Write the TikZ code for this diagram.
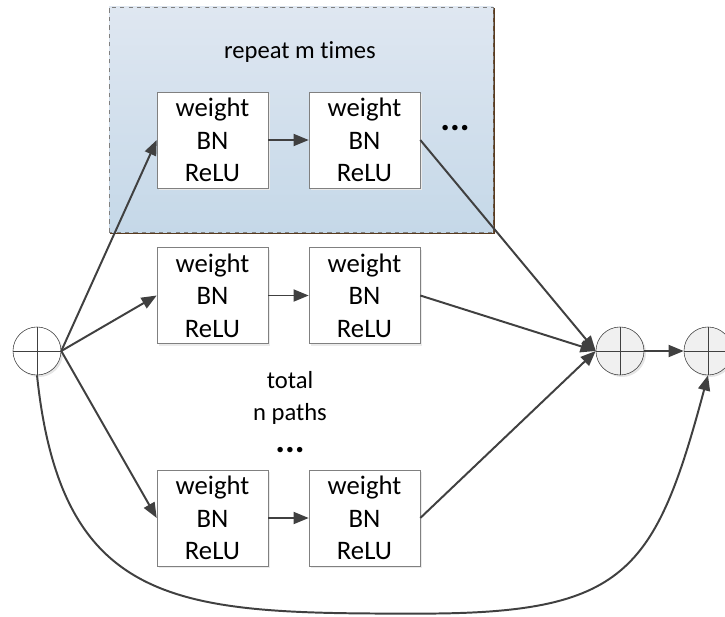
\documentclass[tikz,border=0pt]{standalone}
\usepackage{fontspec}
\setmainfont{Carlito}[Ligatures=NoCommon]
\usetikzlibrary{arrows.meta, positioning, shadows}
\definecolor{linecolor}{RGB}{64,64,64}
\definecolor{boxedge}{RGB}{128,128,128}
\definecolor{repeattop}{RGB}{223,231,241}
\definecolor{repeatbottom}{RGB}{197,216,232}
\definecolor{repeatshadow}{RGB}{88,58,30}
\definecolor{addercolor}{RGB}{240,240,240}
\newcommand{\threedots}{{\fontsize{26}{23}\selectfont\textbf{...}}}

\begin{document}
\begin{tikzpicture}[
    layer/.style={draw=boxedge, thin, fill=white, minimum width=2.775cm, minimum height=2.4cm, align=center, font=\fontsize{19}{23}\selectfont, drop shadow={shadow xshift=0.06cm, shadow yshift=-0.06cm, fill=black!8, opacity=1}},
    adder/.style={circle, draw=linecolor, thin, fill=addercolor, minimum size=1.2cm, inner sep=0pt, drop shadow={shadow xshift=0.05cm, shadow yshift=-0.05cm, fill=black!10, opacity=1}, path picture={\draw[linecolor] (path picture bounding box.north) -- (path picture bounding box.south) (path picture bounding box.east) -- (path picture bounding box.west);}},
    note/.style={align=center, font=\fontsize{17.5}{23}\selectfont},
    flow/.style={-{Triangle[length=3.8mm, width=3mm]}, line width=1.4pt, linecolor}
]
    \useasboundingbox (0,0) rectangle (18.125,15.4);

    % repeated block
    \draw[repeatshadow, line width=1.4pt] (12.35,15.2) -- (12.35,9.575) -- (2.75,9.575);
    \shade[top color=repeattop, bottom color=repeatbottom, draw=boxedge, dashed, thin] (2.725,9.6) rectangle (12.325,15.225);
    \node[note] (reptext) at (7.5,14.1) {repeat m times};
    \node[note] (repdots) at (11.375,12.2) {\threedots};

    % adders
    \node[adder, fill=white] (in) at (0.925,6.625) {};
    \node[adder] (sum) at (15.5,6.625) {};
    \node[adder] (out) at (17.7,6.625) {};

    % layers
    \node[layer] (t1) at (5.3125,11.9) {weight\\BN\\ReLU};
    \node[layer] (t2) at (9.1125,11.9) {weight\\BN\\ReLU};
    \node[layer] (m1) at (5.3125,8.0125) {weight\\BN\\ReLU};
    \node[layer] (m2) at (9.1125,8.0125) {weight\\BN\\ReLU};
    \node[layer] (b1) at (5.3125,2.45) {weight\\BN\\ReLU};
    \node[layer] (b2) at (9.1125,2.45) {weight\\BN\\ReLU};

    \node[note] (paths) at (7.25,5.1) {total\\n paths\\\threedots};

    % paths
    \draw[flow] (in.east) -- (t1.west);
    \draw[flow] (in.east) -- (m1.west);
    \draw[flow] (in.east) -- (b1.west);
    \draw[flow] (t1) -- (t2);
    \draw[flow] (m1) -- (m2);
    \draw[flow] (b1) -- (b2);
    \draw[flow] (t2.east) -- (sum.west);
    \draw[flow] (m2.east) -- (sum.west);
    \draw[flow] (b2.east) -- (sum.west);
    \draw[flow] (sum) -- (out);

    % shortcut
    \coordinate (dip) at (10.5,0.06);
    \draw[flow] (in.south) to[out=-84, in=180, looseness=1.35] (dip) to[out=0, in=-105, looseness=1.4] (out.south);
\end{tikzpicture}
\end{document}
